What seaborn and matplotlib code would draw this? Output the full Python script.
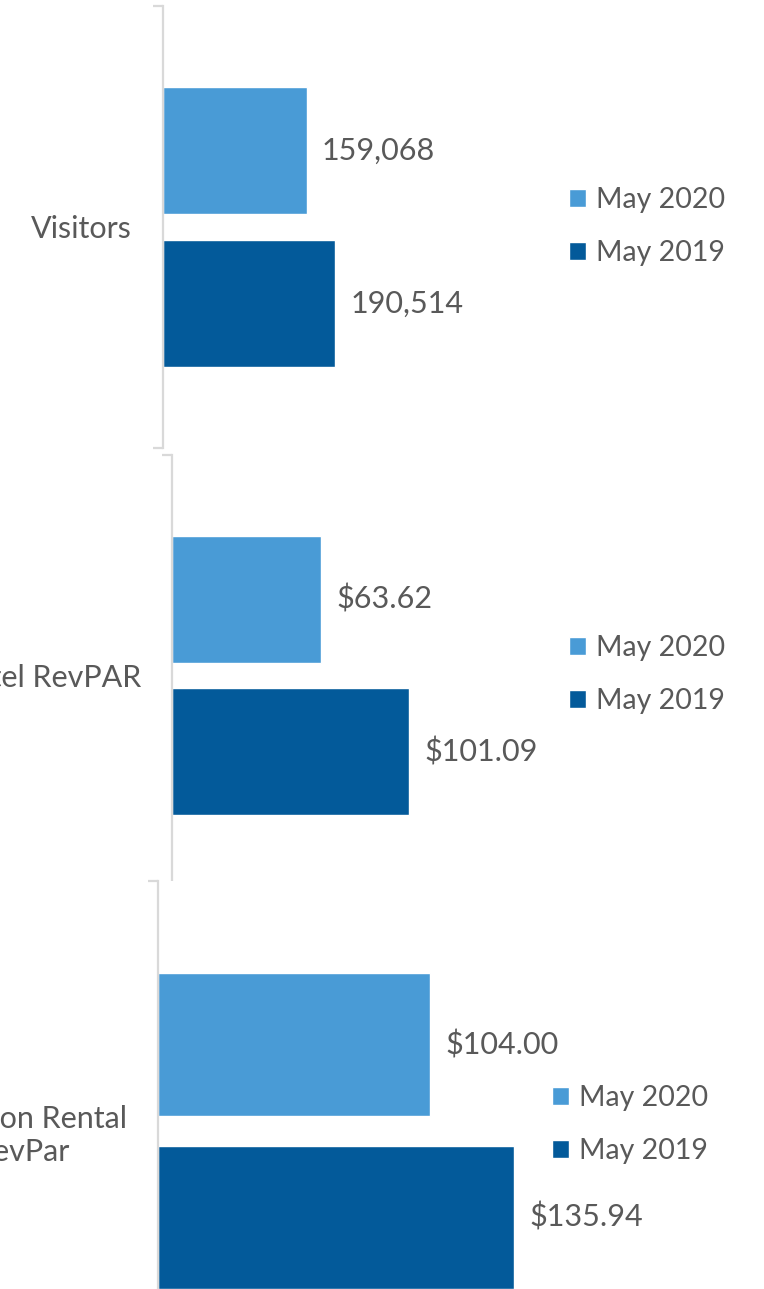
import numpy as np
import pandas as pd
import matplotlib
matplotlib.use("Agg")
import matplotlib.pyplot as plt
import seaborn as sns

# Data
metrics = ["Visitors", "Hotel RevPAR", "Vacation Rental\nRevPar"]
periods = ["May 2020", "May 2019"]
may_2020 = [159068, 63.62, 104.00]
may_2019 = [190514, 101.09, 135.94]
value_formats = ["{:,.0f}", "${:,.2f}", "${:,.2f}"]

df = pd.DataFrame({
    "Metric": np.repeat(metrics, 2),
    "Period": periods * len(metrics),
    "Value": [v for pair in zip(may_2020, may_2019) for v in pair],
})

# Styling
sns.set_theme(style="white")
plt.rcParams["font.family"] = ["Lato", "DejaVu Sans"]
TEXT = "#595959"
AXIS = "#D9D9D9"
palette = {"May 2020": "#499BD6", "May 2019": "#035A9A"}

W, H = 764, 1289
fig = plt.figure(figsize=(W / 100, H / 100), dpi=100)

# panel layout in pixels: spine x, top y, bottom y, px per unit, x max, legend x, legend y
panels = [
    (162.5, 6, 448, 9.07e-4, 600000, 569, 226.5),
    (172.3, 455, 896, 2.344, 250, 569, 674.5),
    (157.5, 881, 1381, 2.62, 230, 552, 1124.5),
]

for metric, fmt, (x0, y0, y1, scale, xmax, lx, ly) in zip(metrics, value_formats, panels):
    width_px = xmax * scale
    ax = fig.add_axes([x0 / W, 1 - y1 / H, width_px / W, (y1 - y0) / H])
    sub = df[df["Metric"] == metric]
    sns.barplot(data=sub, y="Metric", x="Value", hue="Period", hue_order=periods,
                palette=palette, orient="h", width=0.692, gap=0.17,
                saturation=1, ax=ax)
    ax.set_xlim(0, xmax)
    ax.set_ylim(0.5, -0.5)
    ax.set_xlabel("")
    ax.set_ylabel("")
    ax.xaxis.set_visible(False)
    for side in ["top", "right", "bottom"]:
        ax.spines[side].set_visible(False)
    ax.spines["left"].set_color(AXIS)
    ax.spines["left"].set_linewidth(1.6)

    # category label and boundary ticks
    ax.set_yticks([0])
    ax.set_yticklabels([metric])
    ax.set_yticks([-0.5, 0.5], minor=True)
    ax.tick_params(axis="y", which="major", length=0, pad=22, labelsize=22, labelcolor=TEXT)
    ax.tick_params(axis="y", which="minor", length=7, width=1.6, color=AXIS, direction="out", left=True)
    for lab in ax.get_yticklabels():
        lab.set_multialignment("center")

    # value labels
    for cont, vals in zip(ax.containers, [[v] for v in sub["Value"]]):
        ax.bar_label(cont, labels=[fmt.format(v) for v in vals], padding=11,
                     fontsize=22, color=TEXT)

    handles, labels = ax.get_legend_handles_labels()
    ax.legend(handles, labels, loc="center left",
              bbox_to_anchor=(lx / W, 1 - ly / H), bbox_transform=fig.transFigure,
              frameon=False, borderaxespad=0, borderpad=0, fontsize=20.5,
              handlelength=0.6, handleheight=0.6, handletextpad=0.36,
              labelspacing=0.95, labelcolor=TEXT)

fig.savefig("out.png", dpi=100)
